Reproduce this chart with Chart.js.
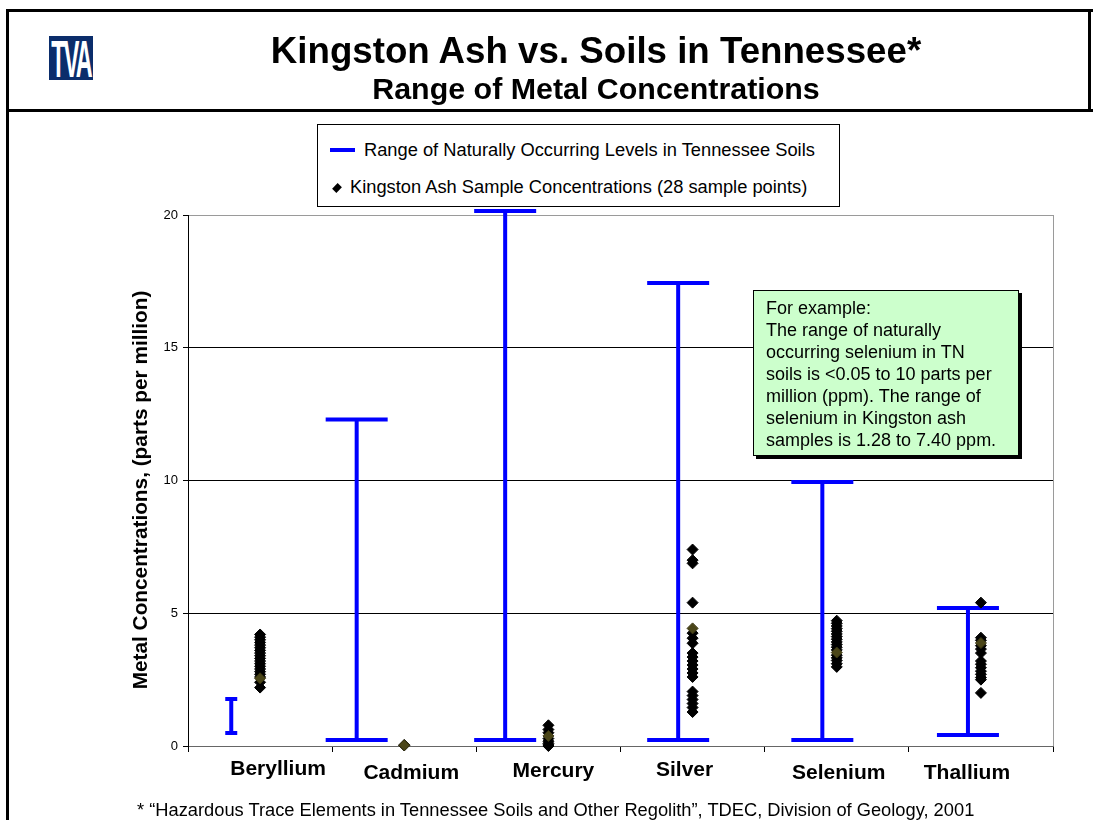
<!DOCTYPE html>
<html>
<head>
<meta charset="utf-8">
<title>Kingston Ash vs. Soils in Tennessee</title>
<script src="https://cdn.jsdelivr.net/npm/chart.js@4.4.0/dist/chart.umd.min.js"></script>
<style>
    body { margin: 0; background: #fff; font-family: Arial, "Liberation Sans", sans-serif; color: #000; }
    #page { position: relative; width: 1093px; height: 820px; overflow: hidden; }
    #chart { position: absolute; left: 0; top: 0; }
    .rule { position: absolute; background: #000; }
    #logo { position: absolute; left: 49px; top: 36px; width: 44px; height: 44px; background: #0b2d6b;
            overflow: hidden; display: flex; justify-content: center; align-items: center; }
    #logo span { color: #fff; font: bold 52px/52px "Liberation Sans", Arial, sans-serif; letter-spacing: -4px;
                 display: inline-block; transform: scaleX(0.45); margin-top: 2px; }
    .title { position: absolute; left: 96px; width: 1000px; text-align: center; font-weight: bold; }
    #legend { position: absolute; left: 317px; top: 124px; width: 521px; height: 81px; border: 1px solid #000; background: #fff; }
    .leg-text { position: absolute; font-size: 18.3px; line-height: 18px; white-space: nowrap; }
    #note { position: absolute; left: 753px; top: 290px; width: 252px; height: 158px; background: #ccffcc;
            border: 1px solid #000; box-shadow: 3px 3px 0 #000; padding: 6px 0 0 12px;
            font-size: 18px; line-height: 22px; z-index: 2; }
    #ytitle { position: absolute; left: -110px; top: 479px; width: 500px; height: 22px; line-height: 22px;
              text-align: center; font-weight: bold; font-size: 20.8px; transform: rotate(-90deg); white-space: nowrap; }
    #foot { position: absolute; left: 137px; top: 801px; font-size: 18.3px; line-height: 18px; white-space: nowrap; }
</style>
</head>
<body>
<div id="page">
    <canvas id="chart" width="1093" height="820"></canvas>

    <div class="rule" style="left:6px; top:9px; width:3px; height:811px;"></div>
    <div class="rule" style="left:6px; top:9px; width:1087px; height:3px;"></div>
    <div class="rule" style="left:6px; top:109px; width:1087px; height:3px;"></div>
    <div class="rule" style="left:1088px; top:9px; width:3px; height:103px;"></div>

    <div id="logo"><span>TVA</span></div>
    <div class="title" style="top:33px; font-size:36.7px; line-height:36px;">Kingston Ash vs. Soils in Tennessee*</div>
    <div class="title" style="top:73px; font-size:30.4px; line-height:30px;">Range of Metal Concentrations</div>

    <div id="legend"></div>

    <div id="note">For example:<br>The range of naturally<br>occurring selenium in TN<br>soils is &lt;0.05 to 10 parts per<br>million (ppm). The range of<br>selenium in Kingston ash<br>samples is 1.28 to 7.40 ppm.</div>

    <div id="ytitle">Metal Concentrations, (parts per million)</div>
    <div id="foot">* “Hazardous Trace Elements in Tennessee Soils and Other Regolith”, TDEC, Division of Geology, 2001</div>
</div>

<script>
// Categorias e valores (ppm)
const elements = ['Beryllium', 'Cadmium', 'Mercury', 'Silver', 'Selenium', 'Thallium'];

// Faixa natural nos solos do Tennessee
const soilLow  = [0.49, 0.23, 0.23, 0.23, 0.23, 0.41];
const soilHigh = [1.77, 12.3, 20.15, 17.44, 9.94, 5.2];
// posição da barra dentro de cada categoria (unidades do eixo x)
const soilX    = [0.30, 1.17, 2.20, 3.40, 4.40, 5.41];

// Amostras de cinza de Kingston, uma lista por elemento
const berylliumAsh = [4.2, 4.1, 4.0, 3.9, 3.8, 3.7, 3.6, 3.5, 3.4, 3.3, 3.2, 3.1, 3.0, 2.9, 2.8, 2.7, 2.6, 2.4, 2.2];
const cadmiumAsh   = [0.04, 0.02];
const mercuryAsh   = [0.78, 0.62, 0.5, 0.28, 0.18, 0.1, 0.04, 0.0];
const silverAsh    = [7.4, 7.0, 6.88, 5.4, 4.25, 4.06, 3.87, 3.5, 3.35, 3.2, 3.05, 2.9, 2.75, 2.6, 2.05, 1.9, 1.75, 1.6, 1.45, 1.28];
const seleniumAsh  = [4.72, 4.62, 4.52, 4.42, 4.32, 4.22, 4.12, 4.02, 3.92, 3.82, 3.72, 3.62, 3.42, 3.32, 3.22, 3.1, 2.98];
const thalliumAsh  = [5.4, 4.08, 3.98, 3.78, 3.65, 3.5, 3.2, 3.08, 2.95, 2.82, 2.7, 2.58, 2.5, 2.0];
const ashSamples = [berylliumAsh, cadmiumAsh, mercuryAsh, silverAsh, seleniumAsh, thalliumAsh];

// pontos em verde-oliva que aparecem sobrepostos em cada coluna
const ashHighlight = [2.55, 0.03, 0.38, 4.43, 3.52, 3.88];

const yTicks = [0, 5, 10, 15, 20];

const rangeLabel = 'Range of Naturally Occurring Levels in Tennessee Soils';
const sampleLabel = 'Kingston Ash Sample Concentrations (28 sample points)';

const BLUE = '#0000ff';
const FONT = 'Arial, "Liberation Sans", sans-serif';

// ajuste fino dos rótulos das categorias (px), como no original
const labelNudge = [[18, 0], [7, 4], [5, 2], [-8, 1], [2, 4], [-14, 4]];

// Monta os dados do gráfico
function buildRangeData() {
    const pts = [];
    elements.forEach((_, i) => {
        pts.push({ x: soilX[i], y: soilLow[i] });
        pts.push({ x: soilX[i], y: soilHigh[i] });
        pts.push({ x: soilX[i], y: null });
    });
    return pts;
}

function buildAshData() {
    const pts = [];
    ashSamples.forEach((list, i) => list.forEach(v => pts.push({ x: i + 0.5, y: v })));
    return pts;
}

// Moldura cinza da área do gráfico
const plotFrame = {
    id: 'plotFrame',
    beforeDraw(chart) {
        const { ctx, chartArea: a } = chart;
        ctx.save();
        ctx.strokeStyle = '#9a9a9a';
        ctx.lineWidth = 1;
        ctx.strokeRect(Math.round(a.left) + 0.5, Math.round(a.top) + 0.5, Math.round(a.right - a.left), Math.round(a.bottom - a.top));
        ctx.restore();
    }
};

// Nomes dos elementos sob o eixo x
const categoryLabels = {
    id: 'categoryLabels',
    afterDraw(chart) {
        const { ctx, scales: { x }, chartArea } = chart;
        ctx.save();
        ctx.font = 'bold 21px ' + FONT;
        ctx.fillStyle = '#000';
        ctx.textAlign = 'center';
        ctx.textBaseline = 'middle';
        elements.forEach((name, i) => {
            ctx.fillText(name, x.getPixelForValue(i + 0.5) + labelNudge[i][0], chartArea.bottom + 23 + labelNudge[i][1]);
        });
        ctx.restore();
    }
};

const chart = new Chart(document.getElementById('chart'), {
    type: 'scatter',
    data: {
        datasets: [
            {
                label: rangeLabel,
                data: buildRangeData(),
                showLine: true,
                borderColor: BLUE,
                borderWidth: 4,
                pointStyle: 'line',
                pointBorderColor: BLUE,
                pointBackgroundColor: BLUE,
                pointBorderWidth: 4,
                pointRadius: ctx => (ctx.raw && ctx.raw.y === null) ? 0 : (ctx.dataIndex < 3 ? 6 : 31),
                clip: false,
                order: 3
            },
            {
                label: sampleLabel,
                data: buildAshData(),
                pointStyle: 'rectRot',
                pointRadius: 5.5,
                pointBackgroundColor: '#000',
                pointBorderColor: '#000',
                pointBorderWidth: 1,
                clip: false,
                order: 2
            },
            {
                label: 'highlight',
                data: ashHighlight.map((v, i) => ({ x: i + 0.5, y: v })),
                pointStyle: 'rectRot',
                pointRadius: 5.5,
                pointBackgroundColor: '#4b4619',
                pointBorderColor: '#3a3612',
                pointBorderWidth: 1,
                clip: false,
                order: 1
            }
        ]
    },
    options: {
        responsive: false,
        animation: false,
        events: [],
        layout: { padding: { left: 138, right: 40, top: 215, bottom: 64 } },
        plugins: { legend: { display: false }, tooltip: { enabled: false } },
        scales: {
            x: {
                type: 'linear',
                min: 0,
                max: elements.length,
                ticks: { stepSize: 1, display: false },
                grid: { drawOnChartArea: false, color: '#000', tickLength: 6 },
                border: { color: '#666', width: 1 },
                afterFit(scale) { scale.height = 10; }
            },
            y: {
                min: yTicks[0],
                max: yTicks[yTicks.length - 1],
                afterBuildTicks(scale) { scale.ticks = yTicks.map(v => ({ value: v })); },
                ticks: { color: '#000', font: { family: FONT, size: 13 }, padding: 5 },
                grid: {
                    color: ctx => ctx.tick.value === 20 ? '#9a9a9a' : (ctx.tick.value === 0 ? '#666' : '#000'),
                    tickColor: '#000',
                    tickLength: 5,
                    lineWidth: 1
                },
                border: { color: '#000', width: 1 },
                afterFit(scale) { scale.width = 50; }
            }
        }
    },
    plugins: [plotFrame, categoryLabels]
});

// Legenda em HTML, a partir dos datasets
function buildLegend() {
    const box = document.getElementById('legend');
    const ds = chart.data.datasets;
    box.innerHTML = `
        <div style="position:absolute; left:12px; top:23px; width:25px; height:4px; background:${ds[0].borderColor};"></div>
        <div class="leg-text" style="left:46px; top:16px;">${ds[0].label}</div>
        <div style="position:absolute; left:16px; top:60px; width:6px; height:6px; background:#000; transform:rotate(45deg) scale(1, 1.3);"></div>
        <div class="leg-text" style="left:32px; top:53px;">${ds[1].label}</div>
    `;
}

buildLegend();
</script>
</body>
</html>
